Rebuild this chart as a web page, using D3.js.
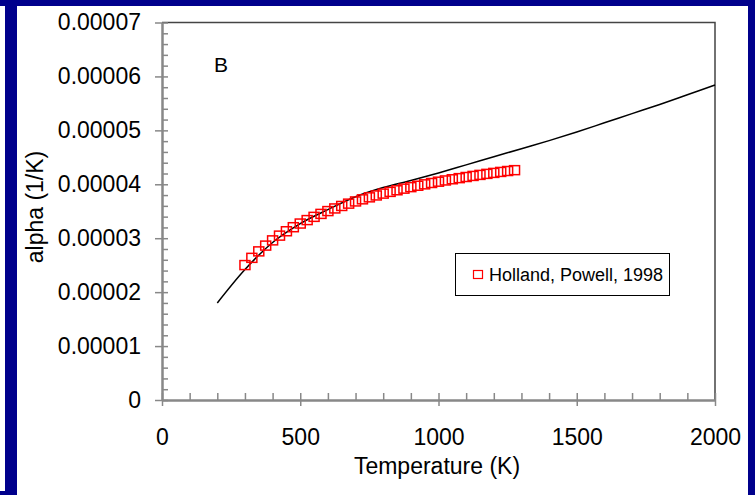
<!DOCTYPE html>
<html>
<head>
<meta charset="utf-8">
<script src="https://cdn.jsdelivr.net/npm/d3@7"></script>
<style>
  html, body { margin: 0; padding: 0; background: #fff; }
  svg { display: block; font-family: "Liberation Sans", Arial, sans-serif; }
</style>
</head>
<body>
<svg id="chart" width="755" height="495"></svg>
<script>
// Model curve: thermal expansion vs temperature (K, 1/K)
const curveT = [200, 300, 400, 500, 600, 700, 800, 900, 1000, 1100, 1200, 1300, 1400, 1500, 1600, 1700, 1800, 1900, 2000];
const curveAlpha = [1.80e-5, 2.42e-5, 2.92e-5, 3.27e-5, 3.53e-5, 3.77e-5, 3.94e-5, 4.07e-5, 4.21e-5, 4.36e-5, 4.51e-5, 4.66e-5, 4.81e-5, 4.97e-5, 5.14e-5, 5.31e-5, 5.48e-5, 5.66e-5, 5.84e-5];

// Holland & Powell (1998) data points
const hpT = [300, 325, 350, 375, 400, 425, 450, 475, 500, 525, 550, 575, 600, 625, 650, 675, 700, 725, 750, 775,
             800, 825, 850, 875, 900, 925, 950, 975, 1000, 1025, 1050, 1075, 1100, 1125, 1150, 1175, 1200, 1225, 1250, 1275];
const hpAlpha = [2.502e-5, 2.636e-5, 2.756e-5, 2.863e-5, 2.960e-5, 3.048e-5, 3.129e-5, 3.204e-5, 3.272e-5, 3.336e-5,
                 3.396e-5, 3.451e-5, 3.503e-5, 3.552e-5, 3.598e-5, 3.641e-5, 3.682e-5, 3.721e-5, 3.758e-5, 3.793e-5,
                 3.827e-5, 3.859e-5, 3.889e-5, 3.919e-5, 3.947e-5, 3.973e-5, 3.999e-5, 4.024e-5, 4.048e-5, 4.071e-5,
                 4.093e-5, 4.114e-5, 4.135e-5, 4.155e-5, 4.174e-5, 4.193e-5, 4.211e-5, 4.229e-5, 4.246e-5, 4.262e-5];

const xMajor = [0, 500, 1000, 1500, 2000];
const xMinor = d3.range(0, 2001, 100);
const yMajor = [0, 0.00001, 0.00002, 0.00003, 0.00004, 0.00005, 0.00006, 0.00007];
const yMinor = d3.range(0, 36).map(i => i * 0.000002);
const yLabels = ["0", "0.00001", "0.00002", "0.00003", "0.00004", "0.00005", "0.00006", "0.00007"];
const xLabels = ["0", "500", "1000", "1500", "2000"];

const svg = d3.select("#chart");
const W = 755, H = 495;
const frame = "#00008c";

// slide frame
svg.append("rect").attr("x", 0).attr("y", 0).attr("width", W).attr("height", 6).attr("fill", frame);
svg.append("rect").attr("x", 5).attr("y", 0).attr("width", 12).attr("height", H).attr("fill", frame);
svg.append("rect").attr("x", 0).attr("y", 491).attr("width", 17).attr("height", 4).attr("fill", frame);
svg.append("rect").attr("x", 748).attr("y", 0).attr("width", 7).attr("height", H).attr("fill", frame);

const x = d3.scaleLinear().domain([0, 2000]).range([162, 715]);
const y = d3.scaleLinear().domain([0, 0.00007]).range([400, 22.5]);

const axisColor = "#888";
const fontSize = 23;

// plot frame (top and right)
svg.append("path")
  .attr("d", `M${x(0)},${y(0.00007)}H${x(2000)}V${y(0)}`)
  .attr("fill", "none").attr("stroke", "#444").attr("stroke-width", 1.5);

function styleAxis(g) {
  g.select(".domain").attr("stroke", axisColor).attr("stroke-width", 2);
  g.selectAll(".tick line").attr("stroke", axisColor).attr("stroke-width", 1.5);
}

// y axis: minor ticks inward, major ticks crossing
svg.append("g").attr("transform", `translate(${x(0)},0)`)
  .call(d3.axisRight(y).tickValues(yMinor).tickSize(6).tickFormat("").tickSizeOuter(0))
  .call(styleAxis);
svg.append("g").attr("transform", `translate(${x(0)},0)`)
  .call(d3.axisLeft(y).tickValues(yMajor).tickSize(7).tickSizeOuter(0)
    .tickPadding(14).tickFormat((d, i) => yLabels[i]))
  .call(styleAxis)
  .call(g => g.selectAll(".tick text").attr("fill", "#000").attr("font-size", fontSize)
    .attr("font-family", "Liberation Sans, Arial, sans-serif"));

// x axis
svg.append("g").attr("transform", `translate(0,${y(0)})`)
  .call(d3.axisTop(x).tickValues(xMinor).tickSize(7).tickFormat("").tickSizeOuter(0))
  .call(styleAxis);
svg.append("g").attr("transform", `translate(0,${y(0)})`)
  .call(d3.axisBottom(x).tickValues(xMajor).tickSize(6).tickSizeOuter(0)
    .tickPadding(23).tickFormat((d, i) => xLabels[i]))
  .call(styleAxis)
  .call(g => g.selectAll(".tick text").attr("fill", "#000").attr("font-size", fontSize)
    .attr("font-family", "Liberation Sans, Arial, sans-serif"));

// axis titles
svg.append("text").attr("x", 437).attr("y", 474).attr("text-anchor", "middle")
  .attr("font-size", fontSize).text("Temperature (K)");
svg.append("text").attr("transform", `translate(43,207) rotate(-90)`).attr("text-anchor", "middle")
  .attr("font-size", fontSize).text("alpha (1/K)");

// panel letter
svg.append("text").attr("x", 214).attr("y", 72).attr("font-size", 21).text("B");

// model curve
const line = d3.line().x((d, i) => x(curveT[i])).y((d, i) => y(curveAlpha[i])).curve(d3.curveMonotoneX);
svg.append("path").datum(curveT).attr("d", line)
  .attr("fill", "none").attr("stroke", "#000").attr("stroke-width", 1.5);

// data markers
const mw = 10, mh = 9;
svg.append("g").selectAll("rect").data(hpT).join("rect")
  .attr("x", (d) => x(d) - mw / 2)
  .attr("y", (d, i) => y(hpAlpha[i]) - mh / 2)
  .attr("width", mw).attr("height", mh)
  .attr("fill", "none").attr("stroke", "#f00").attr("stroke-width", 1.5);

// legend
const lg = svg.append("g");
lg.append("rect").attr("x", 455.5).attr("y", 253.5).attr("width", 214).attr("height", 42)
  .attr("fill", "#fff").attr("stroke", "#000").attr("stroke-width", 1);
lg.append("rect").attr("x", 473.5).attr("y", 270.5).attr("width", 9).attr("height", 8)
  .attr("fill", "none").attr("stroke", "#f00").attr("stroke-width", 1.2);
lg.append("text").attr("x", 489).attr("y", 281).attr("font-size", 18).text("Holland, Powell, 1998");
</script>
</body>
</html>
